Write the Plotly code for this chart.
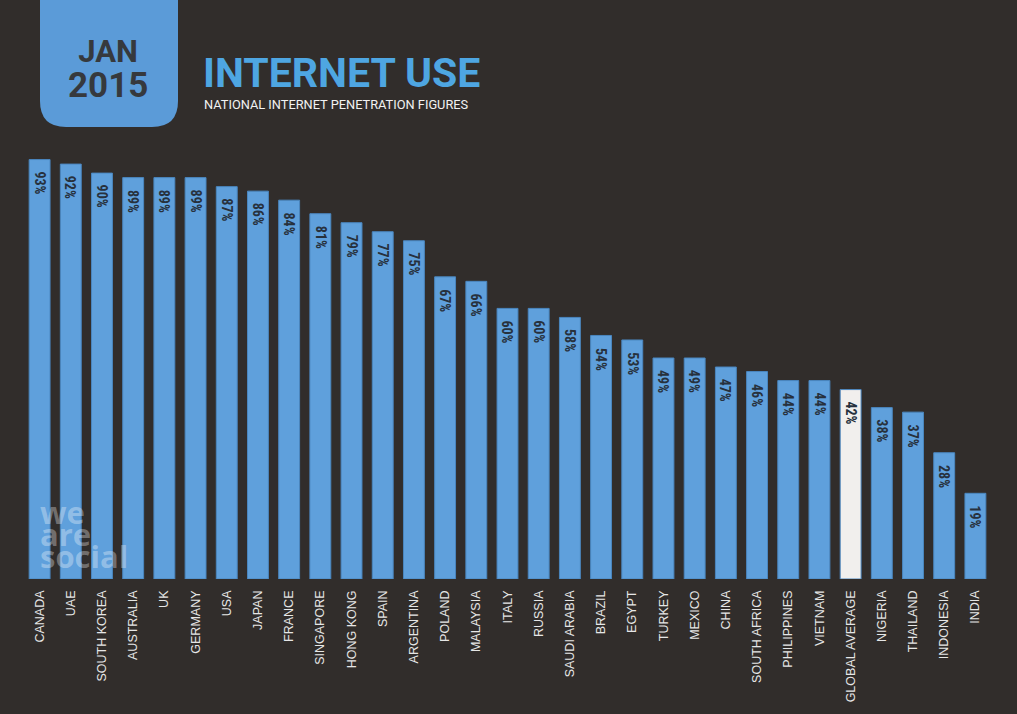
import plotly.graph_objects as go

countries = ["CANADA", "UAE", "SOUTH KOREA", "AUSTRALIA", "UK", "GERMANY", "USA", "JAPAN",
             "FRANCE", "SINGAPORE", "HONG KONG", "SPAIN", "ARGENTINA", "POLAND", "MALAYSIA",
             "ITALY", "RUSSIA", "SAUDI ARABIA", "BRAZIL", "EGYPT", "TURKEY", "MEXICO", "CHINA",
             "SOUTH AFRICA", "PHILIPPINES", "VIETNAM", "GLOBAL AVERAGE", "NIGERIA", "THAILAND",
             "INDONESIA", "INDIA"]
penetration = [93, 92, 90, 89, 89, 89, 87, 86, 84, 81, 79, 77, 75, 67, 66, 60, 60, 58, 54, 53,
               49, 49, 47, 46, 44, 44, 42, 38, 37, 28, 19]
highlight = "GLOBAL AVERAGE"

W, H = 1017, 714
ML, MR, MT, MB = 24, 26, 128, 135
PW, PH = W - ML - MR, H - MT - MB

BG = "#312d2b"
BLUE = "#5fa0dc"
WHITE_BAR = "#f1efed"

def px(x):
    return (x - ML) / PW

def py(y):
    return (H - MB - y) / PH

colors = [WHITE_BAR if c == highlight else BLUE for c in countries]

fig = go.Figure()
fig.add_trace(go.Bar(
    x=countries, y=penetration,
    marker=dict(color=colors, line=dict(color="#4a86bf", width=1)),
    hoverinfo="skip",
))

# badge (rounded bottom corners)
x0, x1, y0, y1, r = 40, 178, -5, 127, 26
path = (f"M {px(x0)} {py(y0)} L {px(x0)} {py(y1 - r)} "
        f"Q {px(x0)} {py(y1)} {px(x0 + r)} {py(y1)} "
        f"L {px(x1 - r)} {py(y1)} Q {px(x1)} {py(y1)} {px(x1)} {py(y1 - r)} "
        f"L {px(x1)} {py(y0)} Z")
fig.add_shape(type="path", path=path, xref="paper", yref="paper",
              fillcolor="#5b9bd8", line=dict(width=0), layer="above")

label_font = dict(family="Liberation Sans Narrow, Roboto Condensed, Arial Narrow, sans-serif",
                  size=14, color="#27313d", weight="bold")
bar_labels = [dict(text=f"{v}%", x=c, y=v, xref="x", yref="y", xanchor="center",
                   yanchor="top", yshift=-10, textangle=90, showarrow=False, font=label_font)
              for c, v in zip(countries, penetration)]

annotations = [
    dict(text="<b><span style='font-size:31px'>JAN</span></b><br>"
              "<b><span style='font-size:35px'>2015</span></b>",
         x=px(108), y=py(70), xanchor="center", yanchor="middle", align="center",
         font=dict(family="Roboto, sans-serif", size=27, color="#36393d")),
    dict(text="<b>INTERNET USE</b>", x=px(201), y=py(73), xanchor="left", yanchor="middle",
         font=dict(family="Roboto, sans-serif", size=41, color="#4ea6e2")),
    dict(text="NATIONAL INTERNET PENETRATION FIGURES", x=px(202), y=py(105), xanchor="left",
         yanchor="middle", font=dict(family="Roboto, sans-serif", size=12.8, color="#f2f2f2")),
    dict(text="<b><span style='font-size:31px'>we</span></b><br>"
              "<b><span style='font-size:31px'>are</span></b><br>"
              "<b><span style='font-size:31px'>social</span></b>",
         x=px(38), y=py(534), xanchor="left", yanchor="middle", align="left",
         font=dict(family="Open Sans, sans-serif", size=17, color="rgba(255,255,255,0.33)")),
]
for a in annotations:
    a.update(xref="paper", yref="paper", showarrow=False)

fig.update_layout(
    width=W, height=H,
    margin=dict(l=ML, r=MR, t=MT, b=MB),
    paper_bgcolor=BG, plot_bgcolor=BG,
    bargap=0.33,
    showlegend=False,
    annotations=bar_labels + annotations,
    xaxis=dict(tickangle=-90, showgrid=False, zeroline=False, showline=False, ticks="",
               ticklabelstandoff=8,
               tickfont=dict(family="Liberation Sans, Arial, sans-serif", size=12.5, color="#e6e6e6")),
    yaxis=dict(range=[0, 100], visible=False),
)

fig.write_html("out.html", config={"displayModeBar": False},
               post_script="document.body.style.margin='0';document.body.style.overflow='hidden';"
                           "document.body.style.background='#312d2b';")
